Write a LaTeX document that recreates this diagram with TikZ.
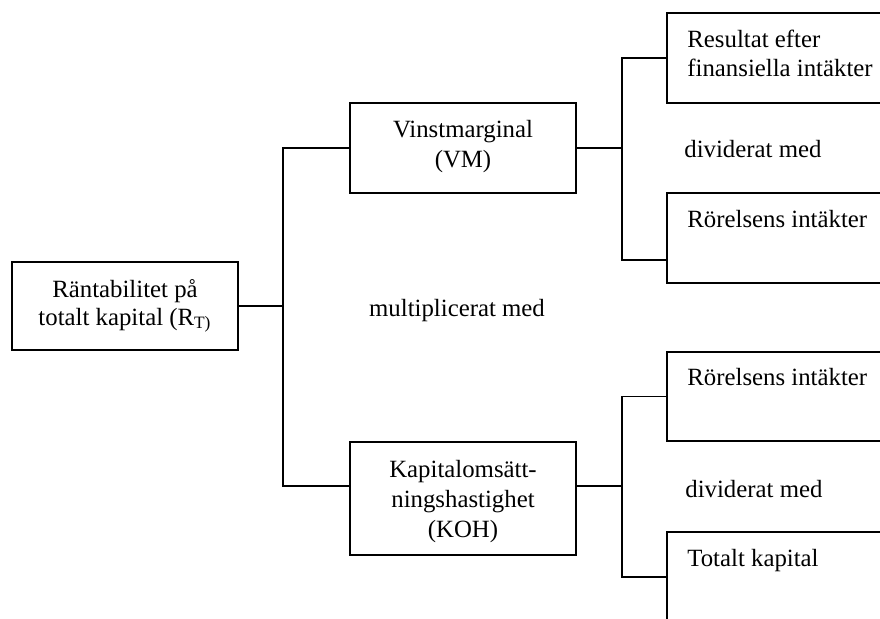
\documentclass[tikz,border=0pt]{standalone}
\usepackage{fontspec}
\setmainfont{Liberation Serif}
\begin{document}
\begin{tikzpicture}[x=0.5pt, y=-0.5pt,
  box/.style={draw=black, line width=0.9pt, rectangle, inner sep=0pt, minimum width=113pt},
  wide/.style={box, minimum width=126.5pt},
  txt/.style={inner sep=0pt, font=\fontsize{12.4}{15}\selectfont, text=black},
  conn/.style={draw=black, line width=0.9pt}]
\useasboundingbox (0,0) rectangle (880,618);
\clip (0,0) rectangle (880,618);

% boxes
\node[box, minimum height=44pt]   (rt)  at (125,306)   {};
\node[box, minimum height=45pt]   (vm)  at (463,148)   {};
\node[box, minimum height=56.5pt] (koh) at (463,498.5) {};
\node[wide, minimum height=45pt]   (res) at (793.5,58)    {};
\node[wide, minimum height=45pt]   (ri1) at (793.5,238)   {};
\node[wide, minimum height=44.5pt] (ri2) at (793.5,396.5) {};
\node[wide, minimum height=84pt]   (tk)  at (793.5,616)   {};

% box texts
\node[txt, anchor=base] (rt1) at (125,297) {Räntabilitet på};
\node[txt, anchor=base] (rt2) at (125,325) {totalt kapital (R\textsubscript{T)}};
\node[txt, anchor=base] (vm1) at (463,137) {Vinstmarginal};
\node[txt, anchor=base] (vm2) at (463,167) {(VM)};
\node[txt, anchor=base] (koh1) at (463,477) {Kapitalomsätt-};
\node[txt, anchor=base] (koh2) at (463,507) {ningshastighet};
\node[txt, anchor=base] (koh3) at (463,537) {(KOH)};
\node[txt, anchor=base west] (res1) at (687,47) {Resultat efter};
\node[txt, anchor=base west] (res2) at (687,76) {finansiella intäkter};
\node[txt, anchor=base west] (ri1t) at (687,227) {Rörelsens intäkter};
\node[txt, anchor=base west] (ri2t) at (687,385) {Rörelsens intäkter};
\node[txt, anchor=base west] (tkt)  at (687,566) {Totalt kapital};

% operators between the branches
\node[txt, anchor=base] (mul) at (457,316) {multiplicerat med};
\node[txt, anchor=base west] (div1) at (684,157) {dividerat med};
\node[txt, anchor=base west] (div2) at (685,497) {dividerat med};

% junction points of the tree
\coordinate (ta) at (283,306);
\coordinate (kin) at (350,486);
\coordinate (kout) at (576,486);
\coordinate (tb) at (622,148);
\coordinate (tc) at (622,486);
\coordinate (ri1in) at (667,260);
\coordinate (tkin) at (667,577);

% connectors
\draw[conn] (rt.east) -- (ta);
\draw[conn] (vm.west) -| (ta) |- (kin);
\draw[conn] (vm.east) -- (tb);
\draw[conn] (res.west) -| (tb) |- (ri1in);
\draw[conn] (kout) -- (tc);
\draw[conn] (ri2.west) -| (tc) |- (tkin);
\end{tikzpicture}
\end{document}
